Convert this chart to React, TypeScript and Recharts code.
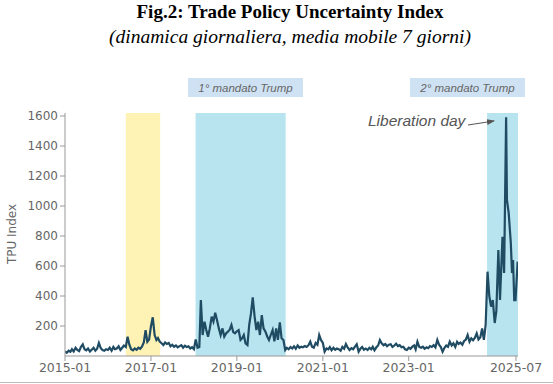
import React from 'react';
import { LineChart, Line, XAxis, YAxis, ReferenceArea } from 'recharts';

// semi-monthly readings (1st and 16th of each month)
const vals2015 = [30, 22, 35, 28, 45, 30, 55, 40, 32, 60, 78, 45, 38, 50, 30, 42, 55, 35, 48, 87, 52, 40, 35, 45];
const vals2016 = [40, 55, 35, 60, 45, 50, 65, 40, 55, 70, 60, 129, 75, 45, 38, 50, 42, 55, 48, 62, 90, 173, 95, 110];
const vals2017 = [200, 258, 140, 107, 120, 96, 85, 73, 90, 80, 87, 65, 75, 62, 70, 58, 66, 72, 55, 68, 60, 65, 50, 58];
const vals2018 = [45, 110, 55, 60, 373, 140, 229, 173, 129, 184, 262, 229, 289, 240, 184, 140, 184, 129, 150, 162, 175, 207, 160, 151];
const vals2019 = [165, 173, 107, 120, 140, 84, 73, 207, 284, 391, 262, 173, 229, 140, 273, 184, 162, 130, 107, 140, 173, 98, 184, 107];
const vals2020 = [225, 118, 107, 40, 55, 45, 60, 50, 65, 48, 70, 55, 62, 58, 66, 60, 72, 96, 62, 55, 87, 75, 140, 107];
const vals2021 = [87, 29, 51, 45, 60, 38, 55, 42, 50, 45, 35, 60, 48, 80, 55, 40, 52, 45, 62, 78, 29, 48, 60, 42];
const vals2022 = [50, 40, 55, 45, 62, 38, 58, 70, 107, 85, 72, 80, 65, 75, 78, 60, 70, 82, 66, 72, 58, 62, 45, 40];
const vals2023 = [55, 48, 62, 70, 45, 96, 60, 55, 62, 48, 58, 52, 66, 60, 72, 58, 107, 75, 60, 29, 55, 70, 62, 96];
const vals2024 = [70, 85, 60, 95, 80, 90, 75, 100, 110, 140, 95, 118, 105, 120, 151, 110, 125, 184, 107, 207, 562, 400, 329, 373];

const years = [2015, 2016, 2017, 2018, 2019, 2020, 2021, 2022, 2023, 2024];
const yearVals = [vals2015, vals2016, vals2017, vals2018, vals2019, vals2020, vals2021, vals2022, vals2023, vals2024];

// 2025: denser readings
const dates2025 = ['2025-01-01', '2025-01-15', '2025-02-01', '2025-02-15', '2025-03-08', '2025-03-22', '2025-04-08', '2025-04-15', '2025-04-30', '2025-05-08', '2025-05-18', '2025-05-28', '2025-06-06', '2025-06-16', '2025-06-27', '2025-07-15'];
const vals2025 = [220, 300, 707, 373, 795, 553, 1591, 1040, 953, 862, 753, 553, 640, 373, 373, 629];

const xTickDates = ['2015-01-01', '2017-01-01', '2019-01-01', '2021-01-01', '2023-01-01', '2025-07-01'];
const yTicks = [200, 400, 600, 800, 1000, 1200, 1400, 1600];

const periods = [
  { from: '2016-06-01', to: '2017-03-20', color: '#fff2b5' },
  { from: '2018-01-15', to: '2020-02-20', color: '#b7e4ef' },
  { from: '2024-10-28', to: '2025-07-18', color: '#b7e4ef' },
];

const domainStart = '2015-01-01';
const domainEnd = '2025-07-18';

const ts = (d: string) => Date.parse(d + 'T00:00:00Z');

const data: { t: number; v: number }[] = [];
years.forEach((y, yi) => {
  yearVals[yi].forEach((v, i) => {
    const m = Math.floor(i / 2) + 1;
    const day = i % 2 === 0 ? '01' : '16';
    data.push({ t: ts(`${y}-${String(m).padStart(2, '0')}-${day}`), v });
  });
});
dates2025.forEach((d, i) => data.push({ t: ts(d), v: vals2025[i] }));

const fmt = (t: number) => {
  const d = new Date(t);
  return `${d.getUTCFullYear()}-${String(d.getUTCMonth() + 1).padStart(2, '0')}`;
};

const sans = 'DejaVu Sans, sans-serif';

export default function App() {
  return (
    <div style={{ position: 'absolute', left: 0, top: 0, width: 553, height: 384, background: '#fff', overflow: 'hidden' }}>
      <div style={{ position: 'absolute', left: 290, top: 2, transform: 'translateX(-50%)', whiteSpace: 'nowrap', fontFamily: 'Liberation Serif, serif', fontWeight: 'bold', fontSize: 19, lineHeight: '19px', color: '#000' }}>
        Fig.2: Trade Policy Uncertainty Index
      </div>
      <div style={{ position: 'absolute', left: 290, top: 27, transform: 'translateX(-50%)', whiteSpace: 'nowrap', fontFamily: 'Liberation Serif, serif', fontStyle: 'italic', fontSize: 19.5, lineHeight: '19.5px', color: '#000' }}>
        (dinamica giornaliera, media mobile 7 giorni)
      </div>
      <div style={{ position: 'absolute', left: 0, top: 0 }}>
        <LineChart width={553} height={384} data={data} margin={{ top: 113, right: 35, bottom: 8, left: 0 }}>
          {periods.map((p, i) => (
            <ReferenceArea key={i} x1={ts(p.from)} x2={ts(p.to)} y1={0} y2={1620} fill={p.color} fillOpacity={1} stroke="none" ifOverflow="hidden" />
          ))}
          <XAxis
            dataKey="t"
            type="number"
            domain={[ts(domainStart), ts(domainEnd)]}
            ticks={xTickDates.map(ts)}
            tickFormatter={fmt}
            height={20}
            tickSize={5}
            allowDataOverflow
            axisLine={{ stroke: '#999' }}
            tickLine={{ stroke: '#999' }}
            tick={{ fill: '#666', fontSize: 12.5, fontFamily: sans }}
            interval={0}
          />
          <YAxis
            type="number"
            domain={[0, 1620]}
            ticks={yTicks}
            width={65}
            tickSize={5}
            allowDataOverflow
            axisLine={{ stroke: '#999' }}
            tickLine={{ stroke: '#999' }}
            tick={{ fill: '#666', fontSize: 12, fontFamily: sans }}
            interval={0}
          />
          <Line type="linear" dataKey="v" stroke="#1f4b63" strokeWidth={2.2} dot={false} isAnimationActive={false} />
        </LineChart>
      </div>
      <div style={{ position: 'absolute', left: 12, top: 234, transform: 'translate(-50%, -50%) rotate(-90deg)', whiteSpace: 'nowrap', fontFamily: sans, fontSize: 12, color: '#666' }}>
        TPU Index
      </div>
      <div style={{ position: 'absolute', left: 188, top: 78, width: 115, height: 19, background: '#cfe2f3', display: 'flex', alignItems: 'center', justifyContent: 'center', fontFamily: 'Liberation Sans, sans-serif', fontStyle: 'italic', fontSize: 11.5, color: '#666', whiteSpace: 'nowrap' }}>
        1° mandato Trump
      </div>
      <div style={{ position: 'absolute', left: 410, top: 78, width: 115, height: 19, background: '#cfe2f3', display: 'flex', alignItems: 'center', justifyContent: 'center', fontFamily: 'Liberation Sans, sans-serif', fontStyle: 'italic', fontSize: 11.5, color: '#666', whiteSpace: 'nowrap' }}>
        2° mandato Trump
      </div>
      <div style={{ position: 'absolute', left: 368, top: 113, fontFamily: 'Liberation Sans, sans-serif', fontStyle: 'italic', fontSize: 15.5, lineHeight: '15px', color: '#555', whiteSpace: 'nowrap' }}>
        Liberation day
      </div>
      <svg style={{ position: 'absolute', left: 0, top: 0 }} width={553} height={384}>
        <defs>
          <marker id="ah" markerWidth="8" markerHeight="6" refX="7" refY="3" orient="auto" markerUnits="userSpaceOnUse">
            <path d="M0,0 L8,3 L0,6 Z" fill="#555" />
          </marker>
        </defs>
        <line x1={468} y1={125} x2={494} y2={121} stroke="#555" strokeWidth={1} markerEnd="url(#ah)" />
      </svg>
      <div style={{ position: 'absolute', left: 0, top: 382, width: 553, height: 0, borderTop: '1px solid #bbb' }} />
    </div>
  );
}
